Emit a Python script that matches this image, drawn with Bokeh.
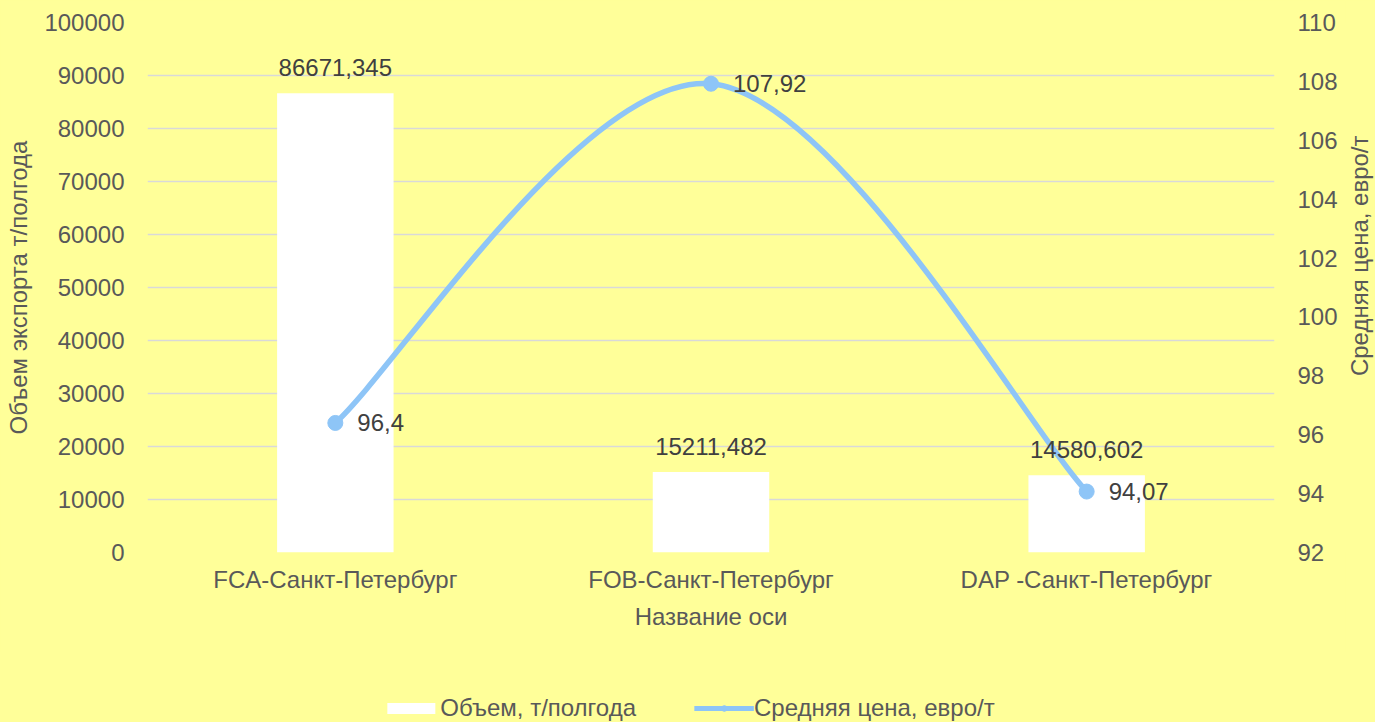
import math
import numpy as np
from bokeh.plotting import figure
from bokeh.layouts import column, row
from bokeh.models import (Range1d, LinearAxis, FixedTicker, ColumnDataSource,
                          Legend, LegendItem, LabelSet, Label, NumeralTickFormatter)
from bokeh.core.properties import value
from bokeh.embed import file_html
from bokeh.resources import INLINE

# ---- data ----
categories = ["FCA-Санкт-Петербург", "FOB-Санкт-Петербург", "DAP -Санкт-Петербург"]
volume = [86671.345, 15211.482, 14580.602]
price = [96.4, 107.92, 94.07]
volume_labels = ["86671,345", "15211,482", "14580,602"]
price_labels = ["96,4", "107,92", "94,07"]
left_ticks = list(range(0, 100001, 10000))
right_ticks = list(range(92, 111, 2))
right_title = "Средняя цена, евро/т"

BG = "#FFFF99"
TICK_C = "#595959"
LABEL_C = "#404040"
LINE_C = "#8EC5F7"
FONT = "Liberation Sans"

xs = list(range(len(categories)))

p = figure(width=1345, height=652, output_backend="svg", toolbar_location=None,
           x_range=Range1d(-0.5, 2.5), y_range=Range1d(0, 100000),
           min_border_left=147, min_border_right=71, min_border_top=22,
           min_border_bottom=100)
p.background_fill_color = None
p.border_fill_color = BG
p.outline_line_color = None
p.extra_y_ranges = {"price": Range1d(92, 110)}

# grid
p.xgrid.visible = False
p.ygrid.ticker = FixedTicker(ticks=left_ticks)
p.ygrid.grid_line_color = "#D9D9D9"
p.ygrid.grid_line_width = 1.5

# bars
src = ColumnDataSource(dict(x=xs, v=volume, lab=volume_labels))
bars = p.vbar(x="x", top="v", width=0.31, source=src, fill_color="white",
              line_color=None)
p.add_layout(LabelSet(x="x", y="v", text="lab", source=src, text_align="center",
                      text_baseline="bottom", y_offset=17, text_color=LABEL_C,
                      text_font_size="24px", text_font=value(FONT)))

# smoothed line (Catmull-Rom style bezier derived from the data points)
px = np.array(xs, dtype=float)
py = np.array(price, dtype=float)
n = len(px)
x0, y0, x1, y1, cx0, cy0, cx1, cy1 = ([] for _ in range(8))
for i in range(n - 1):
    pm = max(i - 1, 0)
    pn = min(i + 2, n - 1)
    x0.append(px[i]); y0.append(py[i])
    x1.append(px[i + 1]); y1.append(py[i + 1])
    cx0.append(px[i] + (px[i + 1] - px[pm]) / 6)
    cy0.append(py[i] + (py[i + 1] - py[pm]) / 6)
    cx1.append(px[i + 1] - (px[pn] - px[i]) / 6)
    cy1.append(py[i + 1] - (py[pn] - py[i]) / 6)
p.bezier(x0=x0, y0=y0, x1=x1, y1=y1, cx0=cx0, cy0=cy0, cx1=cx1, cy1=cy1,
         line_color=LINE_C, line_width=5.5, y_range_name="price")
psrc = ColumnDataSource(dict(x=xs, y=price, lab=price_labels))
p.scatter(x="x", y="y", source=psrc, size=15, fill_color=LINE_C,
          line_color=LINE_C, y_range_name="price")
p.add_layout(LabelSet(x="x", y="y", text="lab", source=psrc, text_align="left",
                      text_baseline="middle", x_offset=22, y_range_name="price",
                      text_color=LABEL_C, text_font_size="24px",
                      text_font=value(FONT)))


def style_axis(ax):
    ax.major_tick_line_color = None
    ax.minor_tick_line_color = None
    ax.major_tick_out = 0
    ax.major_tick_in = 0
    ax.minor_tick_out = 0
    ax.minor_tick_in = 0
    ax.axis_line_color = None
    ax.major_label_text_color = TICK_C
    ax.major_label_text_font = FONT
    ax.major_label_text_font_size = "24px"
    ax.axis_label_text_color = TICK_C
    ax.axis_label_text_font = FONT
    ax.axis_label_text_font_size = "24px"
    ax.axis_label_text_font_style = "normal"


# x axis
xa = p.xaxis[0]
style_axis(xa)
xa.ticker = FixedTicker(ticks=xs)
xa.major_label_overrides = {i: c for i, c in enumerate(categories)}
xa.major_label_standoff = 13
xa.axis_label = "Название оси"
xa.axis_label_standoff = 7

# left y axis
ya = p.yaxis[0]
style_axis(ya)
ya.ticker = FixedTicker(ticks=left_ticks)
ya.formatter = NumeralTickFormatter(format="0")
ya.major_label_standoff = 23
ya.axis_label = "Объем экспорта т/полгода"
ya.axis_label_standoff = 9

# right y axis (tick labels only; its title is drawn in the strip at right)
ra = LinearAxis(y_range_name="price", ticker=FixedTicker(ticks=right_ticks))
style_axis(ra)
ra.major_label_standoff = 23
p.add_layout(ra, "right")

# ---- right title strip ----
rf = figure(width=30, height=652, output_backend="svg", toolbar_location=None,
            x_range=Range1d(0, 30), y_range=Range1d(652, 0),
            x_axis_location=None, y_axis_location=None, min_border=0)
rf.background_fill_color = None
rf.border_fill_color = BG
rf.outline_line_color = None
rf.grid.visible = False
rf.add_layout(Label(x=14, y=287, text=right_title, angle=math.pi / 2,
                    text_align="center", text_baseline="middle",
                    text_color=TICK_C, text_font=FONT,
                    text_font_size="24px"))

# ---- legend strip (separate figure below the chart) ----
lg = figure(width=1375, height=70, output_backend="svg", toolbar_location=None,
            x_range=Range1d(0, 1), y_range=Range1d(0, 1),
            x_axis_location=None, y_axis_location=None, min_border=0)
lg.background_fill_color = None
lg.border_fill_color = BG
lg.outline_line_color = None
lg.grid.visible = False
lb = lg.vbar(x=[2], top=[2], width=0.1, fill_color="white", line_color=None)
ll = lg.line(x=[2, 3], y=[2, 2], line_color=LINE_C, line_width=5)
lp = lg.scatter(x=[2], y=[2], size=14, fill_color=LINE_C, line_color=LINE_C)

legend = Legend(items=[LegendItem(label="Объем, т/полгода", renderers=[lb]),
                       LegendItem(label="Средняя цена, евро/т", renderers=[ll, lp])],
                orientation="horizontal", location="bottom_center",
                background_fill_alpha=0, border_line_color=None,
                label_text_font=FONT, label_text_font_size="24px",
                label_text_color=TICK_C, glyph_width=60, glyph_height=14,
                label_standoff=0, spacing=58, padding=0, margin=0,
                label_height=24)
lg.add_layout(legend)

layout = column(row(p, rf, spacing=0), lg, spacing=0,
                styles={"background-color": BG})
open("out.html", "w").write(file_html(layout, INLINE))
